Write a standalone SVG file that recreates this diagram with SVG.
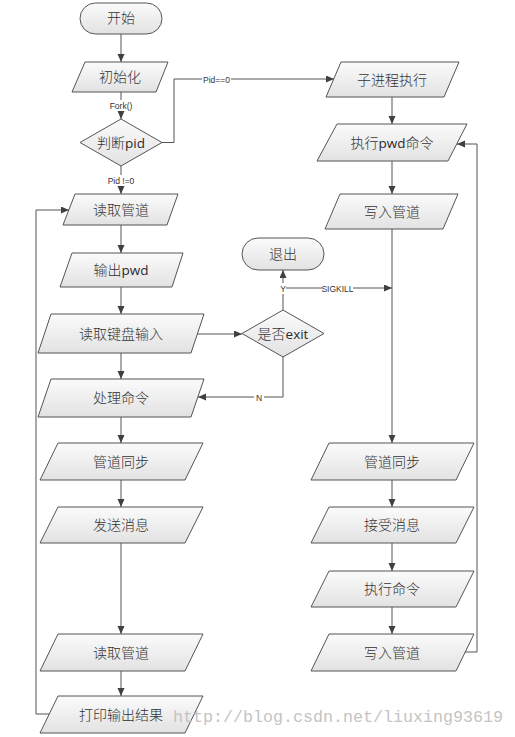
<svg xmlns="http://www.w3.org/2000/svg" width="515" height="737" viewBox="0 0 515 737">
<defs>
<linearGradient id="g" x1="0" y1="0" x2="0" y2="1">
<stop offset="0" stop-color="#fbfbfb"/>
<stop offset="1" stop-color="#e2e2e2"/>
</linearGradient>
<marker id="arr" markerUnits="userSpaceOnUse" markerWidth="9" markerHeight="8" refX="8" refY="3.5" orient="auto">
<path d="M0,0 L8,3.5 L0,7 z" fill="#404040"/>
</marker>
</defs>
<style>
.s{fill:url(#g);stroke:#555;stroke-width:1}
.t{font-family:"Noto Sans CJK SC",sans-serif;font-weight:300;font-size:14px;fill:#333;text-anchor:middle}
.t tspan{font-family:"Open Sans","Liberation Sans",sans-serif;font-weight:500;font-size:13.5px;fill:#2a2a2a}
.c{fill:none;stroke:#555;stroke-width:1}
.a{marker-end:url(#arr)}
.lb{fill:#fff}
.lt{font-family:"Liberation Sans","Open Sans",sans-serif;font-size:8.5px;fill:#333;text-anchor:middle}
.wm{font-family:"Liberation Mono",monospace;font-size:17px;fill:#c4c4c4}
</style>
<rect width="515" height="737" fill="#fff"/>
<g id="connectors">
<path class="c a" d="M121,34 V62"/>
<path class="c a" d="M121,92 V119"/>
<path class="c a" d="M162,142.5 H174 V79 H334"/>
<path class="c a" d="M121,166 V194"/>
<path class="c a" d="M121,225 V253"/>
<path class="c a" d="M121,287 V314"/>
<path class="c a" d="M121,353 V379"/>
<path class="c a" d="M121,417 V443"/>
<path class="c a" d="M121,480 V507"/>
<path class="c a" d="M121,543 V634"/>
<path class="c a" d="M121,671 V696"/>
<path class="c a" d="M49,714 H36 V210 H69"/>
<path class="c a" d="M197,334 H242"/>
<path class="c a" d="M283,357 V397 H198"/>
<path class="c a" d="M283,310 V270"/>
<path class="c a" d="M283,288 H392"/>
<path class="c a" d="M392,97 V124"/>
<path class="c a" d="M392,161 V194"/>
<path class="c a" d="M392,229 V443"/>
<path class="c a" d="M392,480 V507"/>
<path class="c a" d="M392,543 V571"/>
<path class="c a" d="M392,607 V634"/>
<path class="c a" d="M465,652 H477 V144 H457"/>
<rect class="lb" x="109" y="100" width="24" height="11"/>
<text class="lt" x="121" y="108.5">Fork()</text>
<rect class="lb" x="202" y="74" width="29" height="11"/>
<text class="lt" x="216.5" y="82.5">Pid==0</text>
<rect class="lb" x="106" y="175" width="30" height="11"/>
<text class="lt" x="121" y="183.5">Pid !=0</text>
<rect class="lb" x="280" y="283" width="6" height="11"/>
<text class="lt" x="283" y="291.5">Y</text>
<rect class="lb" x="322" y="283" width="31" height="11"/>
<text class="lt" x="337.5" y="291.5">SIGKILL</text>
<rect class="lb" x="254" y="392" width="10" height="11"/>
<text class="lt" x="259" y="400.5">N</text>
</g>
<g id="start"><rect class="s" x="80" y="3" width="82" height="31" rx="15.5"/><text class="t" x="121" y="23">开始</text></g>
<g id="init"><polygon class="s" points="85,62 168,62 156,92 72,92"/><text class="t" x="120" y="82">初始化</text></g>
<g id="judge"><polygon class="s" points="121,119 162,142.5 121,166 80,142.5"/><text class="t" x="121" y="147.5">判断<tspan>pid</tspan></text></g>
<g id="readPipe1"><polygon class="s" points="75,194 178,194 167,225 63,225"/><text class="t" x="121" y="214.5">读取管道</text></g>
<g id="outPwd"><polygon class="s" points="72,253 183,253 172,287 60,287"/><text class="t" x="121" y="275">输出<tspan>pwd</tspan></text></g>
<g id="readKbd"><polygon class="s" points="51,314 204,314 191,353 38,353"/><text class="t" x="121" y="338.5">读取键盘输入</text></g>
<g id="process"><polygon class="s" points="51,379 204,379 191,417 38,417"/><text class="t" x="121" y="403">处理命令</text></g>
<g id="syncL"><polygon class="s" points="58,443 203,443 185,480 40,480"/><text class="t" x="121" y="466.5">管道同步</text></g>
<g id="send"><polygon class="s" points="58,507 203,507 185,543 40,543"/><text class="t" x="121" y="530">发送消息</text></g>
<g id="readPipe2"><polygon class="s" points="58,634 203,634 185,671 40,671"/><text class="t" x="121" y="657.5">读取管道</text></g>
<g id="print"><polygon class="s" points="58,696 203,696 185,733 40,733"/><text class="t" x="121" y="719.5">打印输出结果</text></g>
<g id="child"><polygon class="s" points="341,62 459,62 444,97 326,97"/><text class="t" x="392" y="84.5">子进程执行</text></g>
<g id="execPwd"><polygon class="s" points="337,124 467,124 448,161 317,161"/><text class="t" x="392" y="147.5">执行<tspan>pwd</tspan>命令</text></g>
<g id="writePipe1"><polygon class="s" points="340,194 458,194 443,229 325,229"/><text class="t" x="392" y="216.5">写入管道</text></g>
<g id="isExit"><polygon class="s" points="283,310 324,333.5 283,357 242,333.5"/><text class="t" x="283" y="338.5">是否<tspan>exit</tspan></text></g>
<g id="quit"><rect class="s" x="242" y="238" width="82" height="32" rx="16"/><text class="t" x="283" y="259">退出</text></g>
<g id="syncR"><polygon class="s" points="329,443 474,443 456,480 311,480"/><text class="t" x="392" y="466.5">管道同步</text></g>
<g id="recv"><polygon class="s" points="329,507 474,507 456,543 311,543"/><text class="t" x="392" y="530">接受消息</text></g>
<g id="execCmd"><polygon class="s" points="329,571 474,571 456,607 311,607"/><text class="t" x="392" y="594">执行命令</text></g>
<g id="writePipe2"><polygon class="s" points="329,634 474,634 456,671 311,671"/><text class="t" x="392" y="657.5">写入管道</text></g>
<text class="wm" x="173" y="722" textLength="330" lengthAdjust="spacingAndGlyphs">http://blog.csdn.net/liuxing93619</text>
</svg>
